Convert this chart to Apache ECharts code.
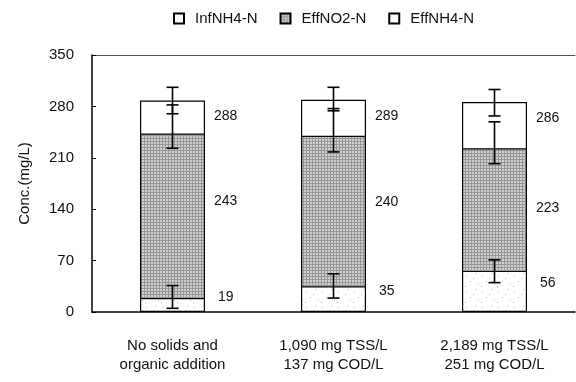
<!DOCTYPE html>
<html>
<head>
<meta charset="utf-8">
<script src="https://cdn.jsdelivr.net/npm/echarts@6/dist/echarts.min.js"></script>
<style>
  html, body { margin: 0; padding: 0; background: #fff; }
  #chart { width: 576px; height: 382px; }
</style>
</head>
<body>
<div id="chart"></div>
<script>
// Nitrogen species after treatment, three feed conditions
const categories = [
  'No solids and\norganic addition',
  '1,090 mg TSS/L\n137 mg COD/L',
  '2,189 mg TSS/L\n251 mg COD/L'
];
const infNH4 = [288, 289, 286];
const effNO2 = [243, 240, 223];
const effNH4 = [19, 35, 56];

// error ranges [low, high] per category
const infNH4Err = [[270, 306], [274, 306], [267, 303]];
const effNO2Err = [[223, 282], [218, 277], [202, 259]];
const effNH4Err = [[5, 36], [19, 52], [40, 71]];

const yTicks = { min: 0, max: 350, interval: 70 };

const FONT = 'Liberation Sans';

// fill textures
function meshPattern() {
  const c = document.createElement('canvas');
  c.width = 3; c.height = 3;
  const g = c.getContext('2d');
  g.fillStyle = '#d0d0d0'; g.fillRect(0, 0, 3, 3);
  g.fillStyle = '#969696';
  g.fillRect(0, 0, 3, 1);
  g.fillRect(0, 0, 1, 3);
  return c;
}
function speckPattern() {
  const c = document.createElement('canvas');
  c.width = 16; c.height = 16;
  const g = c.getContext('2d');
  g.fillStyle = '#ffffff'; g.fillRect(0, 0, 16, 16);
  g.fillStyle = '#c4c4c4';
  [[2, 3], [11, 1], [6, 9], [14, 12], [1, 14], [9, 6]].forEach(p => g.fillRect(p[0], p[1], 1, 1));
  return c;
}
const meshFill = { image: meshPattern(), repeat: 'repeat' };
const speckFill = { image: speckPattern(), repeat: 'repeat' };

const barW = 65;
const labelStyle = { color: '#111', fontFamily: FONT, fontSize: 14 };

function errSeries(name, ranges) {
  return {
    type: 'custom',
    name: name + ' err',
    z: 10,
    silent: true,
    data: ranges.map((r, i) => [i, r[0], r[1]]),
    renderItem: function (params, api) {
      const lo = api.coord([api.value(0), api.value(1)]);
      const hi = api.coord([api.value(0), api.value(2)]);
      const x = lo[0];
      const cap = 6;
      const st = { stroke: '#000', lineWidth: 1.6 };
      return {
        type: 'group',
        children: [
          { type: 'line', shape: { x1: x, y1: hi[1], x2: x, y2: lo[1] }, style: st },
          { type: 'line', shape: { x1: x - cap, y1: hi[1], x2: x + cap, y2: hi[1] }, style: st },
          { type: 'line', shape: { x1: x - cap, y1: lo[1], x2: x + cap, y2: lo[1] }, style: st }
        ]
      };
    }
  };
}

const chart = echarts.init(document.getElementById('chart'), null, { renderer: 'canvas' });
chart.setOption({
  animation: false,
  backgroundColor: '#fff',
  textStyle: { fontFamily: FONT },
  legend: {
    top: 6,
    left: 168,
    icon: 'rect',
    itemWidth: 10,
    itemHeight: 10,
    itemGap: 22,
    textStyle: { fontFamily: FONT, fontSize: 15, color: '#111', padding: [0, 0, 0, 6] },
    data: ['InfNH4-N', 'EffNO2-N', 'EffNH4-N']
  },
  grid: { left: 92, right: 1, top: 55, bottom: 70 },
  xAxis: [{
    type: 'category',
    data: categories,
    axisLine: { lineStyle: { color: '#000', width: 1.5 } },
    axisTick: { inside: true, length: 6, lineStyle: { color: '#000' } },
    axisLabel: { color: '#111', fontFamily: FONT, fontSize: 15, lineHeight: 19, margin: 24 }
  }, {
    type: 'category',
    position: 'top',
    data: categories,
    axisLine: { lineStyle: { color: '#555', width: 1 } },
    axisTick: { show: false },
    axisLabel: { show: false }
  }],
  yAxis: {
    type: 'value',
    min: yTicks.min,
    max: yTicks.max,
    interval: yTicks.interval,
    name: 'Conc.(mg/L)',
    nameLocation: 'middle',
    nameGap: 60,
    nameTextStyle: { color: '#111', fontFamily: FONT, fontSize: 15 },
    axisLine: { show: true, lineStyle: { color: '#000', width: 1.5 } },
    axisTick: { show: true, inside: true, length: 4, lineStyle: { color: '#000' } },
    axisLabel: { color: '#111', fontFamily: FONT, fontSize: 15, margin: 18 },
    splitLine: { show: false }
  },
  series: [
    {
      name: 'InfNH4-N',
      type: 'bar',
      barWidth: barW,
      barGap: '-100%',
      z: 2,
      data: infNH4,
      itemStyle: { color: '#ffffff', borderColor: '#000', borderWidth: 1.2 },
      label: Object.assign({
        show: true, position: ['100%', 16], offset: [9, 0],
        align: 'left', verticalAlign: 'middle'
      }, labelStyle)
    },
    {
      name: 'EffNO2-N',
      type: 'bar',
      barWidth: barW,
      barGap: '-100%',
      z: 3,
      data: effNO2,
      itemStyle: { color: meshFill, borderColor: '#000', borderWidth: 1.2 },
      label: Object.assign({ show: true, position: 'right', distance: 9, offset: [0, -22] }, labelStyle)
    },
    {
      name: 'EffNH4-N',
      type: 'bar',
      barWidth: barW,
      barGap: '-100%',
      z: 4,
      data: effNH4,
      itemStyle: { color: speckFill, borderColor: '#000', borderWidth: 1.2 },
      label: Object.assign({ show: true, position: 'right', distance: 13, offset: [0, -8] }, labelStyle)
    },
    errSeries('InfNH4-N', infNH4Err),
    errSeries('EffNO2-N', effNO2Err),
    errSeries('EffNH4-N', effNH4Err)
  ]
});
</script>
</body>
</html>
